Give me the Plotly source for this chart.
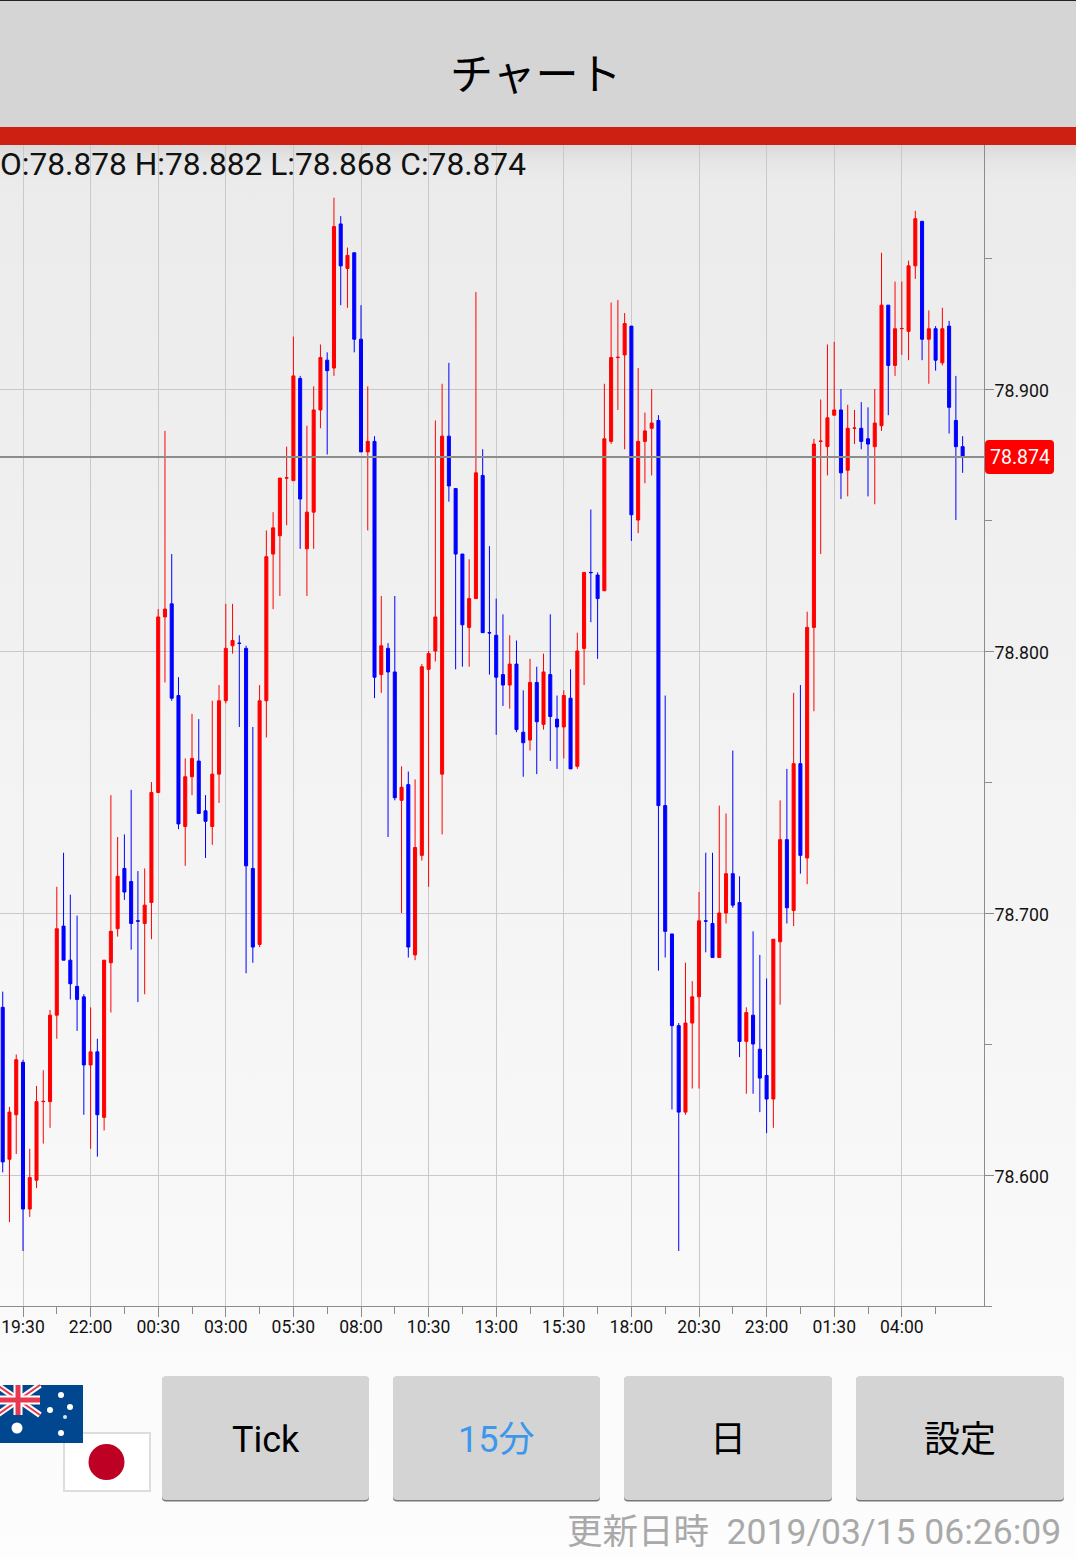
import base64
import plotly.graph_objects as go

W, H = 1076, 1559

OPEN = [78.664,78.606,78.623,78.643,78.587,78.598,78.628,78.628,78.661,
78.695,78.682,78.672,78.668,78.642,78.647,78.622,78.681,78.694,78.717,
78.712,78.697,78.696,78.704,78.746,78.813,78.818,78.783,78.733,78.752,
78.758,78.739,78.733,78.753,78.781,78.802,78.803,78.801,78.717,78.688,
78.781,78.837,78.844,78.866,78.865,78.904,78.839,78.853,78.892,78.911,
78.908,78.963,78.946,78.952,78.919,78.876,78.880,78.791,78.801,78.792,
78.743,78.749,78.684,78.722,78.793,78.800,78.753,78.882,78.862,78.837,
78.809,78.820,78.867,78.807,78.806,78.791,78.787,78.795,78.769,78.766,
78.788,78.772,78.791,78.774,78.771,78.782,78.756,78.801,78.830,78.829,
78.823,78.880,78.912,78.913,78.924,78.850,78.880,78.885,78.888,78.741,
78.692,78.657,78.624,78.658,78.668,78.697,78.696,78.683,78.700,78.715,
78.704,78.651,78.661,78.648,78.638,78.629,78.689,78.728,78.701,78.757,
78.721,78.809,78.880,78.878,78.890,78.892,78.869,78.885,78.885,78.881,
78.878,78.886,78.932,78.909,78.923,78.922,78.947,78.964,78.919,78.923,
78.910,78.924,78.888,78.878]

HIGH = [78.670,78.626,78.646,78.644,78.610,78.634,78.640,78.663,78.710,
78.723,78.707,78.699,78.669,78.664,78.652,78.682,78.745,78.729,78.730,
78.747,78.716,78.717,78.750,78.816,78.884,78.837,78.790,78.759,78.776,
78.774,78.745,78.781,78.787,78.818,78.818,78.806,78.802,78.771,78.787,
78.846,78.853,78.866,78.878,78.920,78.905,78.886,78.901,78.917,78.914,
78.973,78.966,78.954,78.952,78.932,78.901,78.882,78.821,78.803,78.821,
78.756,78.754,78.751,78.795,78.800,78.888,78.902,78.910,78.862,78.837,
78.835,78.937,78.877,78.840,78.820,78.814,78.806,78.804,78.785,78.797,
78.794,78.799,78.814,78.783,78.785,78.793,78.807,78.830,78.854,78.830,
78.902,78.933,78.934,78.929,78.924,78.908,78.891,78.900,78.890,78.783,
78.692,78.658,78.681,78.674,78.708,78.723,78.723,78.741,78.738,78.762,
78.714,78.664,78.693,78.684,78.675,78.690,78.743,78.755,78.784,78.787,
78.815,78.881,78.896,78.917,78.918,78.900,78.894,78.892,78.895,78.893,
78.900,78.952,78.932,78.941,78.941,78.949,78.968,78.964,78.930,78.924,
78.931,78.926,78.905,78.882]

LOW = [78.601,78.582,78.608,78.571,78.584,78.595,78.612,78.618,78.652,
78.682,78.667,78.655,78.623,78.610,78.607,78.617,78.662,78.691,78.705,
78.686,78.666,78.669,78.690,78.746,78.788,78.781,78.732,78.718,78.745,
78.738,78.721,78.726,78.742,78.780,78.799,78.771,78.677,78.681,78.687,
78.767,78.816,78.821,78.848,78.865,78.839,78.821,78.839,78.885,78.875,
78.905,78.932,78.931,78.914,78.876,78.846,78.782,78.784,78.729,78.743,
78.700,78.683,78.682,78.720,78.710,78.796,78.730,78.857,78.793,78.794,
78.794,78.820,78.807,78.791,78.768,78.779,78.778,78.769,78.752,78.762,
78.753,78.770,78.758,78.755,78.759,78.755,78.755,78.787,78.811,78.797,
78.823,78.879,78.892,78.877,78.842,78.845,78.864,78.867,78.678,78.683,
78.625,78.571,78.623,78.633,78.633,78.685,78.683,78.683,78.696,78.702,
78.645,78.631,78.631,78.624,78.616,78.618,78.665,78.696,78.695,78.715,
78.711,78.777,78.837,78.867,78.890,78.858,78.859,78.879,78.877,78.859,
78.856,78.884,78.890,78.905,78.913,78.911,78.942,78.911,78.902,78.907,
78.909,78.883,78.850,78.868]

# A close a hair off its open keeps the colour of the flat (doji) candles.
CLOSE = [78.605,78.624,78.644,78.587,78.599,78.628,78.6281,78.661,78.694,
78.682,78.673,78.667,78.642,78.647,78.623,78.682,78.693,78.714,78.708,
78.696,78.6969,78.703,78.746,78.813,78.816,78.782,78.734,78.752,78.759,
78.738,78.735,78.753,78.781,78.801,78.804,78.8029,78.718,78.687,78.781,
78.836,78.847,78.866,78.8661,78.905,78.858,78.853,78.892,78.912,78.907,
78.962,78.947,78.951,78.919,78.876,78.880,78.790,78.802,78.792,78.744,
78.748,78.687,78.725,78.794,78.799,78.813,78.882,78.863,78.837,78.810,
78.820,78.868,78.807,78.8069,78.790,78.787,78.795,78.770,78.765,78.788,
78.773,78.792,78.775,78.771,78.783,78.755,78.800,78.830,78.8299,78.820,
78.881,78.912,78.9121,78.925,78.852,78.880,78.884,78.887,78.741,78.693,
78.657,78.624,78.658,78.668,78.697,78.6969,78.683,78.700,78.715,78.703,
78.651,78.662,78.650,78.637,78.629,78.690,78.728,78.702,78.757,78.722,
78.809,78.879,78.8801,78.889,78.892,78.868,78.885,78.8851,78.880,78.879,
78.887,78.932,78.909,78.923,78.9231,78.947,78.965,78.919,78.923,78.911,
78.923,78.893,78.878,78.874]

CANDLE_INDEX = list(range(-3, 140))
TIME_LABELS = ["19:30","22:00","00:30","03:00","05:30","08:00","10:30",
               "13:00","15:30","18:00","20:30","23:00","01:30","04:00"]
TIME_TICKS = list(range(0, 140, 10))
TIME_MINOR = list(range(5, 140, 10))
PRICE_TICKS = [78.6, 78.7, 78.8, 78.9]
PRICE_MINOR = [78.55, 78.65, 78.75, 78.85, 78.95]
CURRENT = 78.874
OHLC_TEXT = "O:78.878 H:78.882 L:78.868 C:78.874"
UPDATED = "更新日時\u00a0\u00a02019/03/15 06:26:09"
BUTTONS = [("Tick", 162, 369, "#000000"), ("15分", 393, 600, "#3d97ea"),
           ("日", 624, 832, "#000000"), ("設定", 856, 1064, "#000000")]

FONT = "Roboto, 'Noto Sans CJK JP', sans-serif"
JP = "'Noto Sans CJK JP', Roboto, sans-serif"


def px(x):
    return x / W


def py(y):
    return 1 - y / H


def rect(x0, y0, x1, y1, fill, line=None, lw=0, layer="above"):
    return dict(type="rect", xref="paper", yref="paper", x0=px(x0), x1=px(x1),
                y0=py(y0), y1=py(y1), fillcolor=fill, layer=layer,
                line=dict(color=line or fill, width=lw))


def circle(cx, cy, r, fill):
    return dict(type="circle", xref="paper", yref="paper", x0=px(cx - r), x1=px(cx + r),
                y0=py(cy - r), y1=py(cy + r), fillcolor=fill, layer="above", line=dict(width=0))


def seg(x0, y0, x1, y1, color, w):
    return dict(type="line", xref="paper", yref="paper", x0=px(x0), x1=px(x1),
                y0=py(y0), y1=py(y1), layer="above", line=dict(color=color, width=w))


def round_rect(x0, y0, x1, y1, r, fill):
    a, b, c, d = px(x0), px(x1), py(y0), py(y1)
    rx, ry = r / W, r / H
    path = (f"M {a+rx} {c} L {b-rx} {c} Q {b} {c} {b} {c-ry} L {b} {d+ry} Q {b} {d} {b-rx} {d} "
            f"L {a+rx} {d} Q {a} {d} {a} {d+ry} L {a} {c-ry} Q {a} {c} {a+rx} {c} Z")
    return dict(type="path", xref="paper", yref="paper", path=path, fillcolor=fill,
                layer="above", line=dict(width=0))


def text(x, y, s, size, color="#000000", anchor="center", family=FONT):
    return dict(xref="paper", yref="paper", x=px(x), y=py(y), text=s, showarrow=False,
                xanchor=anchor, yanchor="middle", font=dict(family=family, size=size, color=color),
                borderpad=0, borderwidth=0)


svg = ('<svg xmlns="http://www.w3.org/2000/svg" width="1076" height="1414" preserveAspectRatio="none">'
       '<defs><linearGradient id="g" x1="0" y1="0" x2="0" y2="1">'
       '<stop offset="0" stop-color="#dadada"/><stop offset="0.012" stop-color="#e6e6e6"/>'
       '<stop offset="0.025" stop-color="#ebebeb"/><stop offset="0.45" stop-color="#f3f3f3"/>'
       '<stop offset="0.8" stop-color="#f9f9f9"/><stop offset="1" stop-color="#fdfdfd"/>'
       '</linearGradient></defs><rect width="1076" height="1414" fill="url(#g)"/></svg>')
bg = "data:image/svg+xml;base64," + base64.b64encode(svg.encode()).decode()

fig = go.Figure(go.Candlestick(
    x=CANDLE_INDEX, open=OPEN, high=HIGH, low=LOW, close=CLOSE,
    increasing=dict(line=dict(color="#ff0000", width=1), fillcolor="#ff0000"),
    decreasing=dict(line=dict(color="#0000ff", width=1), fillcolor="#0000ff"),
    whiskerwidth=0, showlegend=False,
))

shapes = [
    rect(0, 0, W, 127, "#d5d5d5"),
    rect(0, 0, W, 1, "#222222"),
    rect(0, 127, W, 145, "#cd2013"),
    dict(type="line", xref="paper", yref="y", x0=0, x1=px(984), y0=CURRENT, y1=CURRENT,
         layer="above", line=dict(color="#8c8c8c", width=2)),
    round_rect(985, 440, 1054, 474, 4, "#ff0000"),
]
for _, x0, x1, _c in BUTTONS:
    shapes.append(round_rect(x0, 1377, x1, 1501.5, 4, "#777777"))
    shapes.append(round_rect(x0, 1376, x1, 1500, 4, "#d4d4d4"))

# Japanese flag, then the Australian flag on top of it
shapes += [rect(64, 1433, 150, 1491, "#ffffff", "#dddddd", 2), circle(106.5, 1462, 18, "#bf0025")]
shapes += [
    rect(-3, 1385, 83, 1443, "#00478f"),
    seg(-3, 1385, 40, 1415, "#ffffff", 6), seg(-3, 1415, 40, 1385, "#ffffff", 6),
    seg(-3, 1385, 40, 1415, "#e8384f", 2), seg(-3, 1415, 40, 1385, "#e8384f", 2),
    seg(18, 1385, 18, 1415, "#ffffff", 9), seg(-3, 1400, 40, 1400, "#ffffff", 9),
    seg(18, 1385, 18, 1415, "#e8384f", 5), seg(-3, 1400, 40, 1400, "#e8384f", 5),
    circle(17, 1428, 5.5, "#ffffff"), circle(61, 1395, 3, "#ffffff"), circle(50, 1410, 3, "#ffffff"),
    circle(70, 1407, 3, "#ffffff"), circle(65, 1417, 2, "#d8e4f0"), circle(61, 1433, 3, "#ffffff"),
]

annotations = [
    text(536, 71, "チャート", 43, "#000000", family=JP),
    text(0, 164, OHLC_TEXT, 31.7, "#111111", anchor="left"),
    text(1019.5, 457, f"{CURRENT:.3f}", 19.5, "#ffffff"),
    text(1061, 1532, UPDATED, 35.5, "#a9a9a9", anchor="right"),
]
for label, x0, x1, color in BUTTONS:
    annotations.append(text((x0 + x1) / 2, 1440, label, 36, color))

fig.update_layout(
    width=W, height=H, autosize=False,
    margin=dict(l=0, r=0, t=0, b=0, pad=0),
    paper_bgcolor="#ffffff", plot_bgcolor="rgba(0,0,0,0)",
    boxgap=0.36, showlegend=False, dragmode=False,
    font=dict(family=FONT),
    images=[dict(source=bg, xref="paper", yref="paper", x=0, y=py(145), sizex=1, sizey=1414 / H,
                 xanchor="left", yanchor="top", sizing="stretch", layer="below")],
    shapes=shapes, annotations=annotations,
    xaxis=dict(
        type="linear", domain=[0, 984 / W], range=[-3.402, 142.16], fixedrange=True,
        rangeslider=dict(visible=False), showgrid=True, gridcolor="#c9c9c9", gridwidth=1, zeroline=False,
        showline=True, linecolor="#8c8c8c", linewidth=1,
        tickmode="array", tickvals=TIME_TICKS, ticktext=TIME_LABELS,
        ticks="outside", ticklen=10, tickcolor="#8c8c8c", tickwidth=1,
        ticklabelstandoff=-5,
        tickfont=dict(family=FONT, size=17.5, color="#111111"),
        minor=dict(tickmode="array", tickvals=TIME_MINOR, ticks="outside", ticklen=7,
                   tickcolor="#8c8c8c", tickwidth=1, showgrid=False),
    ),
    yaxis=dict(
        side="right", domain=[py(1306), py(145)], range=[78.55, 78.99313], fixedrange=True,
        showgrid=True, gridcolor="#c9c9c9", gridwidth=1, zeroline=False,
        showline=True, linecolor="#8c8c8c", linewidth=1,
        tickmode="array", tickvals=PRICE_TICKS, ticktext=[f"{v:.3f}" for v in PRICE_TICKS],
        ticks="outside", ticklen=9, tickcolor="#8c8c8c", tickwidth=1,
        ticklabelstandoff=-3, ticklabelshift=2,
        tickfont=dict(family=FONT, size=17.7, color="#111111"),
        minor=dict(tickmode="array", tickvals=PRICE_MINOR, ticks="outside", ticklen=7,
                   tickcolor="#8c8c8c", tickwidth=1, showgrid=False),
    ),
)

fig.write_html(
    "out.html",
    config=dict(displayModeBar=False, staticPlot=True),
    post_script="document.body.style.margin='0';document.body.style.overflow='hidden';",
)
